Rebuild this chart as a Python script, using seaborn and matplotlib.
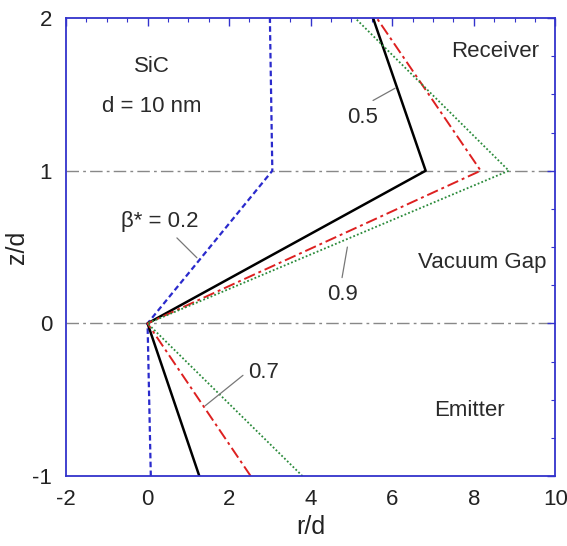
import numpy as np
import pandas as pd
import seaborn as sns
import matplotlib.pyplot as plt
from matplotlib.ticker import MultipleLocator

# z/d positions of the ray kinks (emitter bottom, interface, receiver interface, top)
z_vals = [-1, 0, 1, 2]
beta_labels = ['0.2', '0.5', '0.7', '0.9']
r_beta02 = [0.08, 0.0, 3.06, 3.0]
r_beta05 = [1.27, 0.0, 6.82, 5.53]
r_beta07 = [2.53, 0.0, 8.17, 5.62]
r_beta09 = [3.8, 0.0, 8.86, 5.09]

df = pd.DataFrame({
    'z': z_vals * 4,
    'r': r_beta02 + r_beta05 + r_beta07 + r_beta09,
    'beta': np.repeat(beta_labels, len(z_vals)),
})

sns.set_style('white')
plt.rcParams['font.family'] = ['Liberation Sans', 'DejaVu Sans']
plt.rcParams['axes.unicode_minus'] = False

fig = plt.figure(figsize=(5.67, 5.46), dpi=100)
ax = fig.add_axes([0.1164, 0.128, 0.863, 0.839])

palette = {'0.2': '#2a2acc', '0.5': 'black', '0.7': '#dd2020', '0.9': '#2a8a3a'}
styles = {'0.2': (0, (2.5, 1.5)), '0.5': '-', '0.7': (0, (6, 2, 1.5, 2)), '0.9': (0, (1, 1.2))}
widths = {'0.2': 1.6, '0.5': 1.8, '0.7': 1.4, '0.9': 1.3}

for b in beta_labels:
    sub = df[df['beta'] == b]
    sns.lineplot(data=sub, x='r', y='z', sort=False, estimator=None, ax=ax,
                 color=palette[b], linestyle=styles[b], linewidth=widths[b])

for yl in [0, 1]:
    ax.axhline(yl, color='#888888', linewidth=1.0, linestyle=(0, (9, 3, 2, 3)), zorder=0)

ax.set_xlim(-2, 10)
ax.set_ylim(-1, 2)
ax.xaxis.set_major_locator(MultipleLocator(2))
ax.xaxis.set_minor_locator(MultipleLocator(0.5))
ax.yaxis.set_major_locator(MultipleLocator(1))
ax.yaxis.set_minor_locator(MultipleLocator(0.25))
ax.tick_params(which='both', direction='in', top=True, right=True, color='#3333cc')
ax.tick_params(which='major', length=6, width=1, labelsize=16, labelcolor='#222222')
ax.tick_params(axis='x', which='major', pad=9)
ax.tick_params(axis='y', which='major', pad=10)
ax.tick_params(which='minor', length=3, width=0.8)
for sp in ax.spines.values():
    sp.set_color('#3333cc')
    sp.set_linewidth(1.3)

ax.set_xlabel('r/d', fontsize=18, labelpad=4, color='#222222')
ax.set_ylabel('z/d', fontsize=18, labelpad=2, color='#222222')

fs = 16
tc = '#2a2a2a'
ax.text(0.1, 1.68, 'SiC', fontsize=fs, ha='center', va='center', color=tc)
ax.text(0.1, 1.42, 'd = 10 nm', fontsize=fs, ha='center', va='center', color=tc)
ax.text(8.53, 1.78, 'Receiver', fontsize=fs, ha='center', va='center', color=tc)
ax.text(8.2, 0.4, 'Vacuum Gap', fontsize=fs, ha='center', va='center', color=tc)
ax.text(7.9, -0.57, 'Emitter', fontsize=fs, ha='center', va='center', color=tc)

ax.text(5.27, 1.35, '0.5', fontsize=fs, ha='center', va='center', color=tc)
ax.plot([5.53, 6.07], [1.46, 1.54], color='#777777', linewidth=0.9)
ax.text(0.3, 0.67, 'β* = 0.2', fontsize=fs, ha='center', va='center', color=tc)
ax.plot([0.72, 1.21], [0.56, 0.43], color='#777777', linewidth=0.9)
ax.text(4.77, 0.19, '0.9', fontsize=fs, ha='center', va='center', color=tc)
ax.plot([4.77, 4.9], [0.3, 0.5], color='#777777', linewidth=0.9)
ax.text(2.85, -0.32, '0.7', fontsize=fs, ha='center', va='center', color=tc)
ax.plot([2.34, 1.41], [-0.34, -0.54], color='#777777', linewidth=0.9)

if ax.get_legend() is not None:
    ax.get_legend().remove()

fig.savefig('out.png', dpi=100)
